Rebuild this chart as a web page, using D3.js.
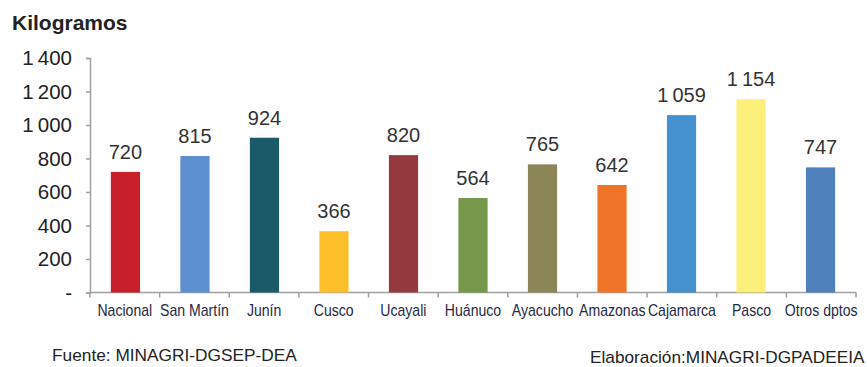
<!DOCTYPE html>
<html>
<head>
<meta charset="utf-8">
<script src="https://cdn.jsdelivr.net/npm/d3@7"></script>
<style>
  body { margin: 0; background: #fff; }
  svg { display: block; font-family: Arial, "Liberation Sans", sans-serif; }
</style>
</head>
<body>
<div id="app"></div>
<script>
const regions = ["Nacional", "San Martín", "Junín", "Cusco", "Ucayali", "Huánuco",
                 "Ayacucho", "Amazonas", "Cajamarca", "Pasco", "Otros dptos"];
const yields = [720, 815, 924, 366, 820, 564, 765, 642, 1059, 1154, 747];
const barColors = ["#c8202a", "#5b8fcd", "#1b5a68", "#fdc02a", "#943a3e", "#76984a",
                   "#8c8558", "#ee7428", "#4590cf", "#fdf07a", "#4f81bd"];
const yTicks = [0, 200, 400, 600, 800, 1000, 1200, 1400];

const width = 867, height = 367;
const margin = { left: 90, right: 11, top: 58, bottom: 74.5 };

const svg = d3.select("#app").append("svg")
    .attr("width", width)
    .attr("height", height);

// space as thousands separator, "-" for zero
const fmt = d3.formatLocale({ decimal: ",", thousands: "\u2009", grouping: [3], currency: ["", ""] }).format(",d");
const tickFmt = d => d === 0 ? "-" : fmt(d);

const x = d3.scaleBand()
    .domain(regions)
    .range([margin.left, width - margin.right])
    .paddingInner(0.58)
    .paddingOuter(0.3);

const y = d3.scaleLinear()
    .domain([0, 1400])
    .range([height - margin.bottom, margin.top]);

// y axis
const yAxis = svg.append("g")
    .attr("transform", `translate(${margin.left},0)`)
    .call(d3.axisLeft(y).tickValues(yTicks).tickFormat(tickFmt).tickSize(4).tickSizeOuter(4).tickPadding(14));
yAxis.select(".domain").attr("stroke", "#a0a0a0").attr("stroke-width", 1.5);
yAxis.selectAll(".tick line").attr("stroke", "#a0a0a0").attr("stroke-width", 1.5);
yAxis.selectAll(".tick text")
    .attr("font-size", 20.5)
    .attr("fill", "#222");

// x axis with ticks between categories
const bounds = d3.range(regions.length + 1).map(i => margin.left + i * (width - margin.right - margin.left) / regions.length);

svg.append("line")
    .attr("x1", margin.left).attr("x2", width - margin.right)
    .attr("y1", y(0)).attr("y2", y(0))
    .attr("stroke", "#a0a0a0").attr("stroke-width", 1.5);

svg.append("g").selectAll("line")
    .data(bounds)
  .enter().append("line")
    .attr("x1", d => d).attr("x2", d => d)
    .attr("y1", y(0)).attr("y2", y(0) + 5)
    .attr("stroke", "#a0a0a0").attr("stroke-width", 1.5);

// bars
svg.append("g").selectAll("rect")
    .data(regions)
  .enter().append("rect")
    .attr("x", d => x(d))
    .attr("width", x.bandwidth())
    .attr("y", (d, i) => y(yields[i]))
    .attr("height", (d, i) => y(0) - y(yields[i]))
    .attr("fill", (d, i) => barColors[i]);

// value labels
svg.append("g").selectAll("text")
    .data(regions)
  .enter().append("text")
    .attr("x", d => x(d) + x.bandwidth() / 2)
    .attr("y", (d, i) => y(yields[i]) - 13)
    .attr("text-anchor", "middle")
    .attr("font-size", 20)
    .attr("fill", "#333")
    .text((d, i) => fmt(yields[i]));

// category labels (narrow look)
svg.append("g").selectAll("text")
    .data(regions)
  .enter().append("text")
    .attr("transform", (d, i) => `translate(${(bounds[i] + bounds[i + 1]) / 2},${y(0) + 23.5}) scale(0.88,1)`)
    .attr("text-anchor", "middle")
    .attr("font-size", 16)
    .attr("fill", "#1f2a44")
    .text(d => d);

// unit title
svg.append("text")
    .attr("x", 12).attr("y", 30)
    .attr("font-size", 21)
    .attr("font-weight", "bold")
    .attr("fill", "#222")
    .text("Kilogramos");

// footer
svg.append("text")
    .attr("transform", "translate(52,361) scale(0.9,1)")
    .attr("font-size", 16)
    .attr("fill", "#222")
    .attr("textLength", 272)
    .attr("lengthAdjust", "spacingAndGlyphs")
    .text("Fuente: MINAGRI-DGSEP-DEA");

svg.append("text")
    .attr("transform", "translate(590,363) scale(0.9,1)")
    .attr("font-size", 16)
    .attr("fill", "#222")
    .attr("textLength", 305)
    .attr("lengthAdjust", "spacingAndGlyphs")
    .text("Elaboración:MINAGRI-DGPADEEIA");
</script>
</body>
</html>
